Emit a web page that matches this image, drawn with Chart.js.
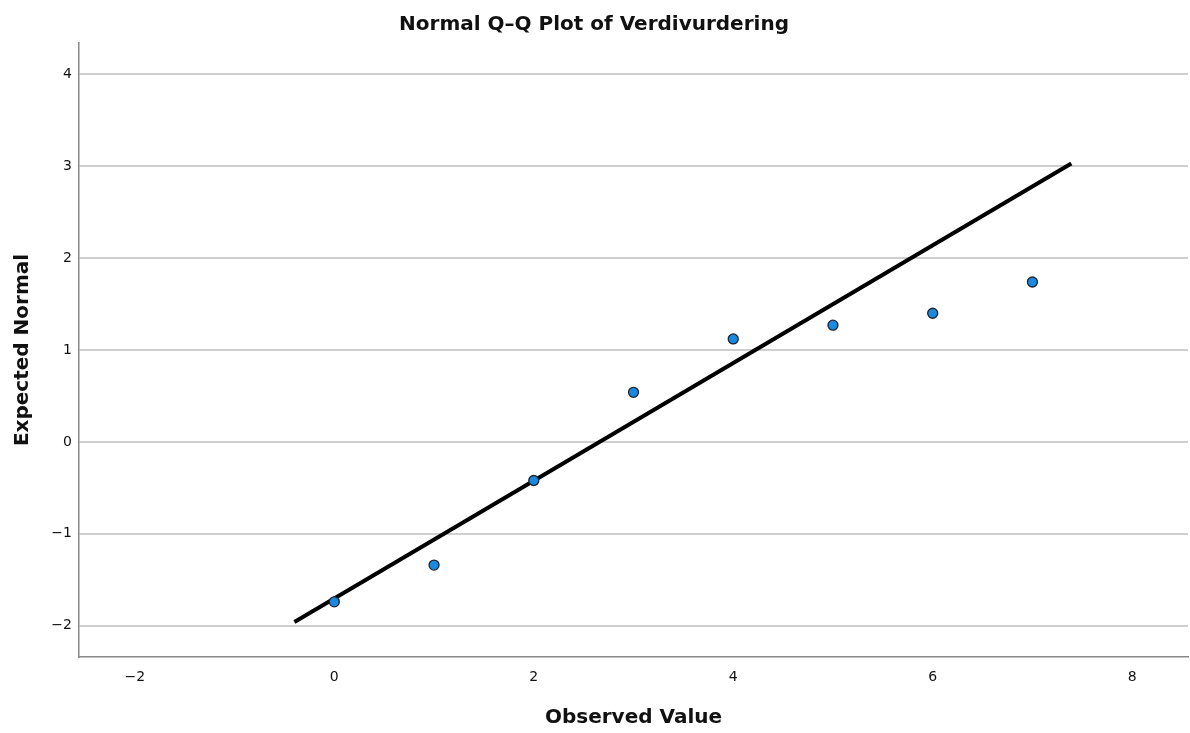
<!DOCTYPE html>
<html>
<head>
<meta charset="utf-8">
<title>Normal Q–Q Plot of Verdivurdering</title>
<script src="https://cdn.jsdelivr.net/npm/chart.js@4/dist/chart.umd.min.js"></script>
<style>
    html, body { margin: 0; padding: 0; background: #ffffff; }
    #chartBox { width: 1190px; height: 733px; }
</style>
</head>
<body>
<div id="chartBox"><canvas id="qqChart" width="1190" height="733"></canvas></div>
<script>
// Observed values and their expected normal scores
const observedValues = [0, 1, 2, 3, 4, 5, 6, 7];
const expectedNormal = [-1.74, -1.34, -0.42, 0.54, 1.12, 1.27, 1.40, 1.74];

// Reference line end points
const lineX = [-0.4, 7.39];
const lineY = [-1.96, 3.03];

// Axis ticks
const xTicks = [-2, 0, 2, 4, 6, 8];
const yTicks = [-2, -1, 0, 1, 2, 3, 4];

const fontFamily = '"DejaVu Sans", "Liberation Sans", sans-serif';

function minusSign(v) {
    return String(v).replace('-', '\u2212');
}

const ctx = document.getElementById('qqChart').getContext('2d');
new Chart(ctx, {
    type: 'scatter',
    data: {
        datasets: [
            {
                label: 'Reference line',
                data: lineX.map((x, i) => ({ x: x, y: lineY[i] })),
                showLine: true,
                borderColor: '#000000',
                borderWidth: 4,
                pointRadius: 0,
                order: 2
            },
            {
                label: 'Verdivurdering',
                data: observedValues.map((x, i) => ({ x: x, y: expectedNormal[i] })),
                backgroundColor: '#1a8ae0',
                borderColor: '#1c2530',
                borderWidth: 1.3,
                pointRadius: 5,
                order: 1
            }
        ]
    },
    options: {
        responsive: false,
        animation: false,
        layout: { autoPadding: false, padding: { left: 0, right: 2, top: 0, bottom: 0 } },
        plugins: {
            legend: { display: false },
            tooltip: { enabled: false },
            title: {
                display: true,
                text: 'Normal Q\u2013Q Plot of Verdivurdering',
                color: '#111111',
                font: { family: fontFamily, size: 20, weight: 'bold' },
                padding: { top: 13, bottom: 6 }
            }
        },
        scales: {
            x: {
                type: 'linear',
                min: -2.56,
                max: 8.56,
                afterBuildTicks: axis => { axis.ticks = xTicks.map(v => ({ value: v })); },
                afterFit: axis => { axis.height = 76; },
                ticks: {
                    color: '#111111',
                    font: { family: fontFamily, size: 14 },
                    padding: 4,
                    callback: v => minusSign(v)
                },
                grid: { display: false },
                border: { display: true, color: '#888888', width: 1.5 },
                title: {
                    display: true,
                    text: 'Observed Value',
                    color: '#111111',
                    font: { family: fontFamily, size: 20, weight: 'bold' },
                    padding: { top: 0, bottom: 3 }
                }
            },
            y: {
                type: 'linear',
                min: -2.34,
                max: 4.34,
                afterBuildTicks: axis => { axis.ticks = yTicks.map(v => ({ value: v })); },
                afterFit: axis => { axis.width = 79; },
                ticks: {
                    color: '#111111',
                    font: { family: fontFamily, size: 14 },
                    padding: 7,
                    callback: v => minusSign(v)
                },
                grid: {
                    color: '#cfcfcf',
                    lineWidth: 2,
                    drawTicks: false
                },
                border: { display: true, color: '#888888', width: 1.5 },
                title: {
                    display: true,
                    text: 'Expected Normal',
                    color: '#111111',
                    font: { family: fontFamily, size: 20, weight: 'bold' },
                    padding: { top: 11, bottom: 0 }
                }
            }
        }
    }
});
</script>
</body>
</html>
